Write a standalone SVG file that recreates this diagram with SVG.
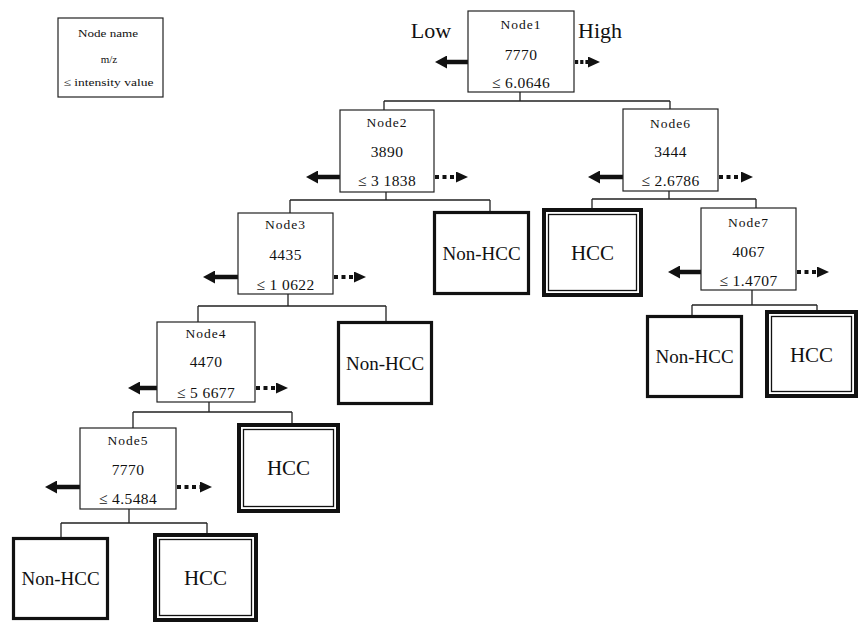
<svg xmlns="http://www.w3.org/2000/svg" width="859" height="622" viewBox="0 0 859 622">
<style>
.bg{fill:#fff}
.box{fill:#fff;stroke:#222;stroke-width:1.2}
.leaf{fill:#fff;stroke:#111;stroke-width:3.2}
.hccO{fill:#fff;stroke:#111;stroke-width:4}
.hccI{fill:none;stroke:#111;stroke-width:1.3}
.con{fill:none;stroke:#222;stroke-width:1.3}
.low{stroke:#111;stroke-width:4.5;marker-end:url(#headLow)}
.high{stroke:#111;stroke-width:4;stroke-dasharray:4 3.5;marker-end:url(#headHigh)}
.high1{stroke:#111;stroke-width:4;stroke-dasharray:3.2 2;marker-end:url(#headHigh)}
text{font-family:"Liberation Serif","Times New Roman",serif;fill:#111;text-anchor:middle}
.nm{font-size:13.5px;letter-spacing:1px}
.num{font-size:15.5px;letter-spacing:0.4px}
.lab{font-size:19px}
.hcc{font-size:21px}
.lg{font-size:11px}
.dir{font-size:22px}
</style>
<defs>
<marker id="headLow" markerUnits="userSpaceOnUse" markerWidth="12" markerHeight="13" viewBox="0 0 12 13" refX="2" refY="6.5" orient="auto">
<path d="M0,0 L12,6.5 L0,13 Z" fill="#111"/>
</marker>
<marker id="headHigh" markerUnits="userSpaceOnUse" markerWidth="12" markerHeight="11" viewBox="0 0 12 11" refX="1" refY="5.5" orient="auto">
<path d="M0,0 L12,5.5 L0,11 Z" fill="#111"/>
</marker>
</defs>
<rect class="bg" x="0" y="0" width="859" height="622"/>

<g id="legend">
<rect class="box" x="58" y="18" width="105" height="79"/>
<text class="lg" x="108" y="37" textLength="60" lengthAdjust="spacingAndGlyphs">Node name</text>
<text class="lg" x="109" y="63">m/z</text>
<text class="lg" x="108.5" y="86" textLength="90" lengthAdjust="spacingAndGlyphs">≤ intensity value</text>
</g>

<g id="direction-labels">
<text class="dir" x="431" y="38">Low</text>
<text class="dir" x="600" y="38">High</text>
</g>

<g id="connectors">
<path class="con" d="M520,92 V101 M384,101 H670 M384,101 V110 M670,101 V109"/>
<path class="con" d="M386,192 V200 M290,200 H490 M290,200 V213 M490,200 V211"/>
<path class="con" d="M288,294 V306 M198,306 H386 M198,306 V322 M386,306 V321"/>
<path class="con" d="M209,402 V412 M133,412 H292 M133,412 V428 M292,412 V423"/>
<path class="con" d="M129,509 V523 M61,523 H207 M61,523 V537 M207,523 V533"/>
<path class="con" d="M669,191 V199 M592,199 H756 M592,199 V208 M756,199 V208"/>
<path class="con" d="M752,290 V305 M692,305 H817 M692,305 V315 M817,305 V310"/>
</g>

<g id="arrows">
<line class="low" x1="468" y1="62" x2="445" y2="62"/>
<line class="high1" x1="575" y1="62" x2="589" y2="62"/>
<line class="low" x1="340" y1="177" x2="316" y2="177"/>
<line class="high" x1="435" y1="177" x2="457" y2="177"/>
<line class="low" x1="623" y1="177" x2="598" y2="177"/>
<line class="high" x1="719" y1="177" x2="742" y2="177"/>
<line class="low" x1="238" y1="277" x2="213" y2="277"/>
<line class="high" x1="334" y1="277" x2="355" y2="277"/>
<line class="low" x1="701" y1="272" x2="678" y2="272"/>
<line class="high" x1="797" y1="272" x2="818" y2="272"/>
<line class="low" x1="157" y1="388" x2="138" y2="388"/>
<line class="high" x1="256" y1="388" x2="277" y2="388"/>
<line class="low" x1="80" y1="487" x2="55" y2="487"/>
<line class="high" x1="177" y1="487" x2="201" y2="487"/>
</g>

<g id="node1">
<rect class="box" x="468" y="11" width="106" height="81"/>
<text class="nm" x="521" y="29">Node1</text>
<text class="num" x="521" y="60">7770</text>
<text class="num" x="521" y="88">≤ 6.0646</text>
</g>
<g id="node2">
<rect class="box" x="340" y="110" width="94" height="82"/>
<text class="nm" x="387" y="127">Node2</text>
<text class="num" x="387" y="157">3890</text>
<text class="num" x="387" y="186">≤ 3 1838</text>
</g>
<g id="node6">
<rect class="box" x="623" y="109" width="95" height="82"/>
<text class="nm" x="670.5" y="128">Node6</text>
<text class="num" x="670.5" y="157">3444</text>
<text class="num" x="670.5" y="186">≤ 2.6786</text>
</g>
<g id="node3">
<rect class="box" x="238" y="213" width="95" height="81"/>
<text class="nm" x="285.5" y="229">Node3</text>
<text class="num" x="285.5" y="260">4435</text>
<text class="num" x="285.5" y="290">≤ 1 0622</text>
</g>
<g id="node7">
<rect class="box" x="701" y="208" width="95" height="82"/>
<text class="nm" x="748.5" y="227">Node7</text>
<text class="num" x="748.5" y="257">4067</text>
<text class="num" x="748.5" y="286">≤ 1.4707</text>
</g>
<g id="node4">
<rect class="box" x="157" y="322" width="98" height="80"/>
<text class="nm" x="206" y="338">Node4</text>
<text class="num" x="206" y="367">4470</text>
<text class="num" x="206" y="398">≤ 5 6677</text>
</g>
<g id="node5">
<rect class="box" x="80" y="428" width="96" height="81"/>
<text class="nm" x="128" y="445">Node5</text>
<text class="num" x="128" y="475">7770</text>
<text class="num" x="128" y="504">≤ 4.5484</text>
</g>

<g id="leaf-node2-nonhcc">
<rect class="leaf" x="434.5" y="212.5" width="94" height="81"/>
<text class="lab" x="481.5" y="259.5">Non-HCC</text>
</g>
<g id="leaf-node3-nonhcc">
<rect class="leaf" x="338.5" y="322.5" width="93" height="81"/>
<text class="lab" x="385" y="369.5">Non-HCC</text>
</g>
<g id="leaf-node6-hcc">
<rect class="hccO" x="544" y="210" width="97" height="85"/>
<rect class="hccI" x="548.5" y="214.5" width="88" height="76"/>
<text class="hcc" x="592.5" y="260">HCC</text>
</g>
<g id="leaf-node7-nonhcc">
<rect class="leaf" x="647.5" y="316.5" width="94" height="80"/>
<text class="lab" x="694.5" y="363">Non-HCC</text>
</g>
<g id="leaf-node7-hcc">
<rect class="hccO" x="767" y="312" width="89" height="84"/>
<rect class="hccI" x="771.5" y="316.5" width="80" height="75"/>
<text class="hcc" x="811.5" y="361.5">HCC</text>
</g>
<g id="leaf-node4-hcc">
<rect class="hccO" x="239" y="425" width="99" height="86"/>
<rect class="hccI" x="243.5" y="429.5" width="90" height="77"/>
<text class="hcc" x="288.5" y="475">HCC</text>
</g>
<g id="leaf-node5-nonhcc">
<rect class="leaf" x="13.5" y="538.5" width="94" height="80"/>
<text class="lab" x="60.5" y="585">Non-HCC</text>
</g>
<g id="leaf-node5-hcc">
<rect class="hccO" x="155" y="535" width="101" height="85"/>
<rect class="hccI" x="159.5" y="539.5" width="92" height="76"/>
<text class="hcc" x="205.5" y="585">HCC</text>
</g>
</svg>
